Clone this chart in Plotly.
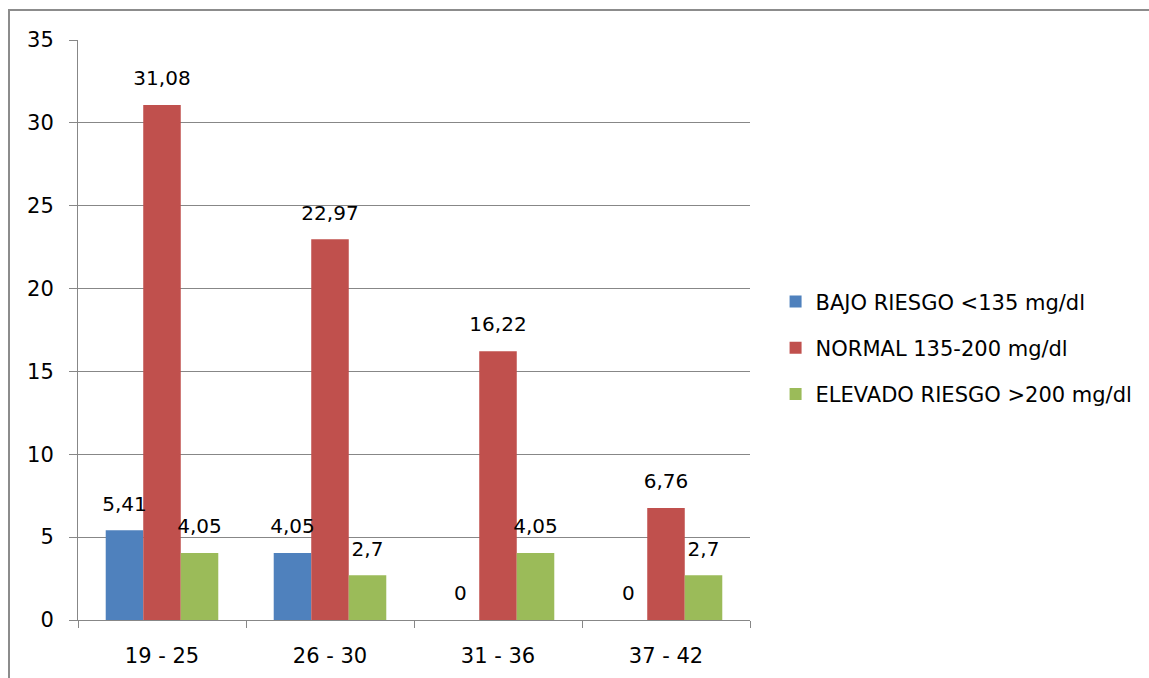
import plotly.graph_objects as go

# Age groups (years) and share of participants per cholesterol band (%)
categories = ["19 - 25", "26 - 30", "31 - 36", "37 - 42"]
bajo_riesgo = [5.41, 4.05, 0, 0]
normal = [31.08, 22.97, 16.22, 6.76]
elevado_riesgo = [4.05, 2.7, 4.05, 2.7]

series_names = [
    "BAJO RIESGO <135 mg/dl",
    "NORMAL 135-200 mg/dl",
    "ELEVADO RIESGO >200 mg/dl",
]
series_colors = ["#4F81BD", "#C0504D", "#9BBB59"]
y_ticks = [0, 5, 10, 15, 20, 25, 30, 35]

FONT = "DejaVu Sans"
GRID = "#878787"
GAP = 0.33


def fmt(v):
    # decimal comma, no trailing zeros
    return ("%g" % v).replace(".", ",")


all_series = [bajo_riesgo, normal, elevado_riesgo]

fig = go.Figure()
for i, (name, vals, col) in enumerate(zip(series_names, all_series, series_colors)):
    fig.add_trace(
        go.Bar(
            x=categories,
            y=vals,
            name=name,
            marker=dict(color=col, line=dict(width=0)),
            offsetgroup=f"s{i}",
            legendgroup=f"g{i}",
        )
    )

# value labels, placed in the same group slots as the bars
for i, vals in enumerate(all_series):
    fig.add_trace(
        go.Scatter(
            x=categories,
            y=vals,
            mode="markers+text",
            text=[fmt(v) for v in vals],
            textposition="top center",
            textfont=dict(family=FONT, size=20, color="#000000"),
            marker=dict(size=22, color="rgba(0,0,0,0)"),
            offsetgroup=f"s{i}",
            showlegend=False,
            hoverinfo="skip",
            cliponaxis=False,
        )
    )

fig.update_layout(
    width=1149,
    height=678,
    margin=dict(l=78, r=399, t=40, b=58),
    paper_bgcolor="white",
    plot_bgcolor="white",
    barmode="group",
    bargap=GAP,
    bargroupgap=0,
    scattermode="group",
    scattergap=GAP,
    font=dict(family=FONT, size=20, color="#000000"),
    legend=dict(
        xref="container",
        yref="container",
        x=0.675,
        y=0.487,
        xanchor="left",
        yanchor="middle",
        font=dict(family=FONT, size=21, color="#000000"),
        traceorder="grouped",
        tracegroupgap=16,
        bgcolor="rgba(0,0,0,0)",
    ),
    xaxis=dict(
        type="category",
        automargin=False,
        showline=True,
        linecolor=GRID,
        linewidth=1,
        ticks="outside",
        tickson="boundaries",
        ticklen=7,
        tickcolor=GRID,
        showgrid=False,
        tickfont=dict(family=FONT, size=21, color="#000000"),
        ticklabelstandoff=17,
    ),
    yaxis=dict(
        range=[0, 35],
        automargin=False,
        tickvals=y_ticks,
        showline=True,
        linecolor=GRID,
        linewidth=1,
        ticks="outside",
        ticklen=8,
        tickcolor=GRID,
        showgrid=True,
        gridcolor=GRID,
        gridwidth=1,
        zeroline=False,
        tickfont=dict(family=FONT, size=21, color="#000000"),
        ticklabelstandoff=11,
    ),
    shapes=[
        # outer chart frame
        dict(
            type="rect",
            xref="paper",
            yref="paper",
            x0=(9 - 78) / 672,
            x1=(1170 - 78) / 672,
            y0=(620 - 700) / 580,
            y1=(620 - 10) / 580,
            line=dict(color="#8C8C8C", width=2),
            fillcolor="rgba(0,0,0,0)",
            layer="below",
        )
    ],
)

fig.write_html("out.html")
